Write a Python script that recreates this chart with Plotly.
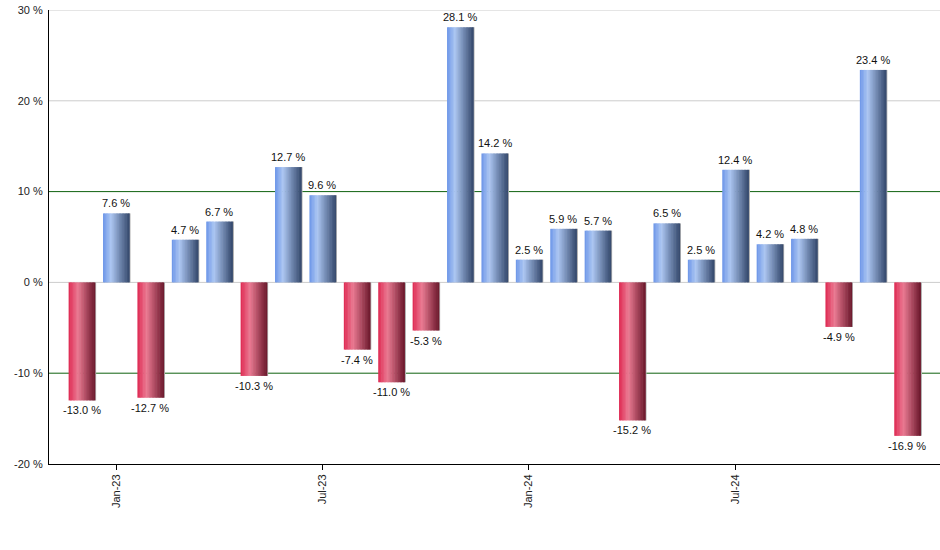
import plotly.graph_objects as go

# monthly returns, Dec-22 .. Dec-24
months = ["Dec-22", "Jan-23", "Feb-23", "Mar-23", "Apr-23", "May-23", "Jun-23",
          "Jul-23", "Aug-23", "Sep-23", "Oct-23", "Nov-23", "Dec-23",
          "Jan-24", "Feb-24", "Mar-24", "Apr-24", "May-24", "Jun-24",
          "Jul-24", "Aug-24", "Sep-24", "Oct-24", "Nov-24", "Dec-24"]
returns = [-13.0, 7.6, -12.7, 4.7, 6.7, -10.3, 12.7, 9.6, -7.4, -11.0, -5.3, 28.1,
           14.2, 2.5, 5.9, 5.7, -15.2, 6.5, 2.5, 12.4, 4.2, 4.8, -4.9, 23.4, -16.9]
tick_labels = ["Jan-23", "Jul-23", "Jan-24", "Jul-24"]
y_ticks = [-20, -10, 0, 10, 20, 30]

# horizontal gradient stops (position, rgb) for up / down bars
blue_stops = [(0.0, (108, 150, 232)), (0.3, (172, 198, 242)), (1.0, (52, 72, 108))]
red_stops = [(0.0, (222, 40, 82)), (0.35, (234, 122, 146)), (1.0, (108, 24, 44))]


def grad(stops, t):
    for (p0, c0), (p1, c1) in zip(stops, stops[1:]):
        if p0 <= t <= p1:
            f = (t - p0) / (p1 - p0)
            r, g, b = (round(a + (b_ - a) * f) for a, b_ in zip(c0, c1))
            return f"rgb({r},{g},{b})"
    return "rgb(%d,%d,%d)" % stops[-1][1]


fig = go.Figure()

bar_w = 0.76
n = 18
sw = bar_w / n

# faint shadow on the right edge
fig.add_trace(go.Bar(
    x=months, y=returns, width=0.05, offset=bar_w / 2 - 0.01,
    marker=dict(color="#b4b4b4", line_width=0), hoverinfo="skip", showlegend=False
))

for i in range(n):
    t = (i + 0.5) / n
    colors = [grad(blue_stops, t) if v >= 0 else grad(red_stops, t) for v in returns]
    fig.add_trace(go.Bar(
        x=months, y=returns, width=sw * 1.4, offset=-bar_w / 2 + i * sw,
        marker=dict(color=colors, line_width=0),
        hoverinfo="skip", showlegend=False
    ))

# value labels above/below each bar
for m, v in zip(months, returns):
    fig.add_annotation(
        x=m, y=v, text=f"{v:.1f} %", showarrow=False,
        yanchor="bottom" if v >= 0 else "top",
        yshift=2 if v >= 0 else -2,
        font=dict(family="Liberation Sans, Arial", size=11, color="#111"),
    )

# grid lines: grey, except dark green at +/-10
for yv in y_ticks[1:]:
    col = "#0f620f" if abs(yv) == 10 else "#cccccc"
    fig.add_hline(y=yv, line=dict(color=col, width=1), layer="below")

fig.update_layout(
    width=940, height=550,
    barmode="overlay",
    plot_bgcolor="white", paper_bgcolor="white",
    margin=dict(l=49, r=0, t=10, b=86, autoexpand=False),
    font=dict(family="Liberation Sans, Arial", size=11, color="#222"),
)
fig.update_xaxes(
    type="category", categoryorder="array", categoryarray=months,
    range=[-0.95, 24.95],
    tickmode="array", tickvals=tick_labels, ticktext=tick_labels,
    tickangle=-90, ticks="outside", ticklen=5, tickcolor="black",
    showline=True, linecolor="black", linewidth=1,
    showgrid=False, zeroline=False, automargin=False,
)
fig.update_yaxes(
    range=[-20, 30], tickmode="array", tickvals=y_ticks,
    ticktext=[f"{t} %" for t in y_ticks],
    showline=True, linecolor="black", linewidth=1,
    showgrid=False, zeroline=False,
    ticks="", ticklabelstandoff=3, automargin=False,
)

fig.write_html("out.html", config={"displayModeBar": False},
               post_script="document.body.style.margin='0';")
